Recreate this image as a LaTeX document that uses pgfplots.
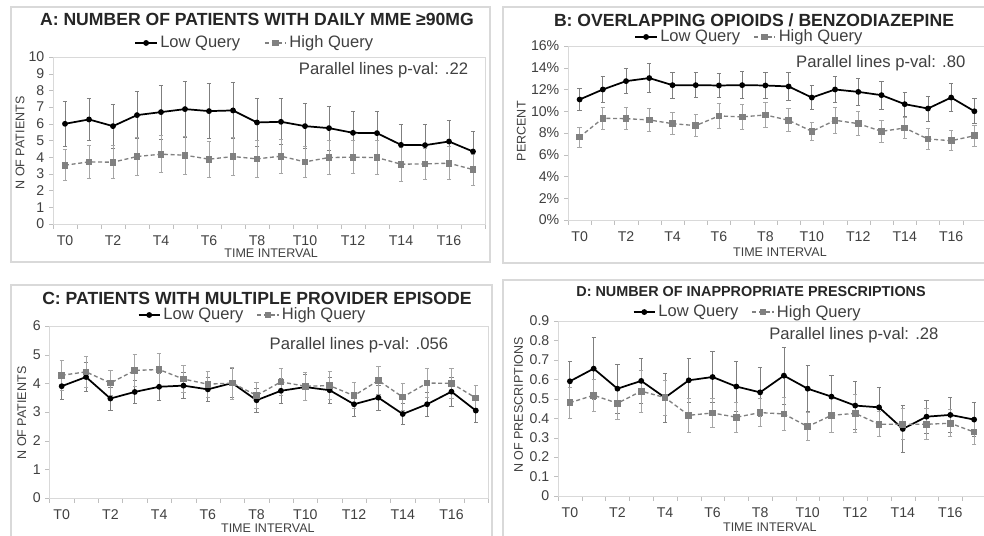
\documentclass[border=0pt]{standalone}
\usepackage{pgfplots}
\pgfplotsset{compat=1.18}
\usepackage{pgfplotstable}
\usepackage{fontspec}
\setmainfont{Liberation Sans}
\setsansfont{Liberation Sans}

\definecolor{framec}{HTML}{D9D9D9}
\definecolor{axgray}{HTML}{BFBFBF}
\definecolor{txt}{HTML}{404040}
\definecolor{ttl}{HTML}{262626}
\definecolor{higray}{HTML}{808080}
\definecolor{errlo}{HTML}{7F7F7F}
\definecolor{errhi}{HTML}{A6A6A6}

% Panel A
\pgfplotstableread{
x y e
0 6.00 1.34
1 6.26 1.24
2 5.86 1.32
3 6.52 1.42
4 6.70 1.62
5 6.88 1.68
6 6.76 1.66
7 6.80 1.70
8 6.08 1.42
9 6.12 1.38
10 5.86 1.36
11 5.74 1.32
12 5.46 1.28
13 5.44 1.30
14 4.74 1.24
15 4.72 1.26
16 4.94 1.24
17 4.34 1.22
}\ALow
\pgfplotstableread{
x y e
0 3.52 0.92
1 3.72 0.98
2 3.70 0.98
3 4.04 1.12
4 4.18 1.10
5 4.12 1.14
6 3.88 1.06
7 4.04 1.12
8 3.90 1.10
9 4.06 1.02
10 3.72 0.90
11 3.98 1.00
12 4.00 1.00
13 3.98 1.04
14 3.58 1.00
15 3.60 0.92
16 3.64 0.98
17 3.26 0.92
}\AHigh
% Panel B (percent)
\pgfplotstableread{
x y e
0 11.08 1.00
1 12.00 1.20
2 12.77 1.17
3 13.05 1.32
4 12.40 1.20
5 12.40 1.17
6 12.37 1.14
7 12.40 1.26
8 12.37 1.23
9 12.28 1.26
10 11.26 1.08
11 12.00 1.17
12 11.78 1.26
13 11.48 1.30
14 10.65 1.10
15 10.25 1.14
16 11.26 1.26
17 10.00 1.14
}\BLow
\pgfplotstableread{
x y e
0 7.63 0.93
1 9.35 0.98
2 9.32 1.02
3 9.20 1.05
4 8.86 1.01
5 8.68 1.02
6 9.57 1.11
7 9.48 1.11
8 9.66 1.11
9 9.17 1.05
10 8.15 0.86
11 9.17 1.20
12 8.86 1.11
13 8.15 0.98
14 8.46 0.98
15 7.45 0.99
16 7.29 0.92
17 7.75 0.98
}\BHigh
% Panel C
\pgfplotstableread{
x y e
0 3.90 0.45
1 4.22 0.50
2 3.47 0.40
3 3.70 0.41
4 3.88 0.46
5 3.92 0.45
6 3.79 0.41
7 4.01 0.50
8 3.41 0.41
9 3.74 0.44
10 3.87 0.45
11 3.76 0.46
12 3.27 0.41
13 3.50 0.43
14 2.93 0.38
15 3.27 0.43
16 3.71 0.50
17 3.05 0.42
}\CLow
\pgfplotstableread{
x y e
0 4.28 0.51
1 4.40 0.55
2 4.01 0.43
3 4.45 0.55
4 4.48 0.57
5 4.15 0.47
6 3.97 0.46
7 4.01 0.56
8 3.58 0.44
9 4.05 0.48
10 3.90 0.48
11 3.92 0.49
12 3.57 0.45
13 4.10 0.50
14 3.52 0.48
15 4.01 0.51
16 4.00 0.51
17 3.49 0.44
}\CHigh
% Panel D
\pgfplotstableread{
x y e
0 0.590 0.100
1 0.655 0.160
2 0.552 0.127
3 0.592 0.115
4 0.506 0.127
5 0.595 0.115
6 0.612 0.132
7 0.563 0.127
8 0.533 0.126
9 0.619 0.146
10 0.552 0.119
11 0.511 0.108
12 0.465 0.122
13 0.456 0.105
14 0.345 0.120
15 0.408 0.086
16 0.417 0.092
17 0.393 0.086
}\DLow
\pgfplotstableread{
x y e
0 0.480 0.080
1 0.518 0.084
2 0.477 0.082
3 0.539 0.107
4 0.506 0.090
5 0.415 0.086
6 0.427 0.074
7 0.405 0.076
8 0.429 0.072
9 0.422 0.086
10 0.357 0.072
11 0.415 0.087
12 0.425 0.100
13 0.369 0.065
14 0.369 0.080
15 0.369 0.080
16 0.374 0.069
17 0.329 0.063
}\DHigh

\newcommand{\ttlfont}{\fontsize{13.2}{15}\selectfont\bfseries}
\newcommand{\pfont}{\fontsize{12.5}{15}\selectfont}

\pgfplotsset{
 panel/.style={
  scale only axis, clip=false, anchor=south west,
  xmin=-0.5, xmax=17.5, ymin=0,
  xtick={0,2,...,16},
  xticklabels={T0,T2,T4,T6,T8,T10,T12,T14,T16},
  minor xtick={-0.5,0.5,...,17.5},
  xtick pos=left, ytick pos=left,
  tick align=outside,
  major x tick style={draw=none},
  minor x tick style={draw=axgray},
  y tick style={draw=axgray},
  major tick length=3pt, minor tick length=3.5pt,
  axis line style={draw=framec},
  /pgf/number format/assume math mode=true,
  tick label style={font=\fontsize{10.6}{12}\selectfont, text=txt},
  xticklabel style={yshift=-2pt},
  label style={font=\fontsize{9.4}{11}\selectfont, text=txt},
  xlabel={TIME INTERVAL},
  legend style={draw=none, fill=none, anchor=center,
    font=\fontsize{12.4}{14}\selectfont, text=txt,
    legend columns=2, inner sep=0pt,
    /tikz/every even column/.append style={column sep=8pt}},
  legend image code/.code={\draw[mark repeat=2, mark phase=2] plot coordinates {(0cm,0cm) (0.28cm,0cm) (0.56cm,0cm)};},
 },
 loS/.style={black, line width=1.3pt, mark=*, mark size=1.5pt, mark options={solid},
   error bars/y dir=both, error bars/y explicit,
   error bars/error bar style={errlo, line width=0.6pt, solid},
   error bars/error mark options={rotate=90, errlo, mark size=1.6pt, line width=0.6pt, solid}},
 hiS/.style={higray, line width=1pt, dash pattern=on 3pt off 2pt, mark=square*, mark size=2pt, mark options={solid, higray},
   error bars/y dir=both, error bars/y explicit,
   error bars/error bar style={errhi, line width=0.6pt, solid},
   error bars/error mark options={rotate=90, errhi, mark size=1.6pt, line width=0.6pt, solid}},
}

\begin{document}
\begin{tikzpicture}
\path[use as bounding box] (0pt,0pt) rectangle (738pt,401.25pt);
\fill[white] (0pt,0pt) rectangle (738pt,401.25pt);
% panel frames
\draw[framec, line width=0.8pt] (8.25pt,204.75pt) rectangle (367.5pt,396pt);
\draw[framec, line width=0.8pt] (377.25pt,204pt) rectangle (745pt,396pt);
\draw[framec, line width=0.8pt] (8.25pt,-5pt) rectangle (369pt,187.5pt);
\draw[framec, line width=0.8pt] (377.25pt,-5pt) rectangle (745pt,191.25pt);

% ---------------- A ----------------
\begin{axis}[panel, at={(39.75pt,233.25pt)}, width=324pt, height=125.25pt,
  ymax=10, ytick={0,1,...,10},
  ylabel={N OF PATIENTS},
  xlabel style={at={(axis description cs:0.505,-0.174)}, anchor=center},
  ylabel style={at={(axis description cs:-0.076,0.485)}, anchor=center},
  legend style={at={(0.468,1.084)}, /tikz/every even column/.append style={column sep=16pt}}]
\addplot[loS] table[x=x, y=y, y error=e] {\ALow};
\addlegendentry{Low Query}
\addplot[hiS] table[x=x, y=y, y error=e] {\AHigh};
\addlegendentry{High Query}
\node[anchor=center, font=\ttlfont, text=ttl] at (axis description cs:0.472,1.222) {A: NUMBER OF PATIENTS WITH DAILY MME ≥90MG};
\node[anchor=east, font=\pfont, text=txt] at (axis description cs:0.972,0.922) {Parallel lines p-val: .22};
\end{axis}

% ---------------- B ----------------
\begin{axis}[panel, at={(426pt,236.25pt)}, width=313.5pt, height=130.5pt,
  ymax=16, ytick={0,2,...,16},
  yticklabels={0\%,2\%,4\%,6\%,8\%,10\%,12\%,14\%,16\%},
  ylabel={PERCENT},
  xlabel style={at={(axis description cs:0.507,-0.184)}, anchor=center},
  ylabel style={at={(axis description cs:-0.112,0.51)}, anchor=center},
  legend style={at={(0.435,1.052)}}]
\addplot[loS] table[x=x, y=y, y error=e] {\BLow};
\addlegendentry{Low Query}
\addplot[hiS] table[x=x, y=y, y error=e] {\BHigh};
\addlegendentry{High Query}
\node[anchor=center, font=\ttlfont, text=ttl] at (axis description cs:0.445,1.149) {B: OVERLAPPING OPIOIDS / BENZODIAZEPINE};
\node[anchor=east, font=\pfont, text=txt] at (axis description cs:0.962,0.902) {Parallel lines p-val: .80};
\end{axis}

% ---------------- C ----------------
\begin{axis}[panel, at={(37.125pt,27.75pt)}, width=328.875pt, height=129pt,
  ymax=6, ytick={0,1,...,6},
  ylabel={N OF PATIENTS},
  xlabel style={at={(axis description cs:0.498,-0.174)}, anchor=center},
  ylabel style={at={(axis description cs:-0.063,0.494)}, anchor=center},
  legend style={at={(0.464,1.064)}}]
\addplot[loS] table[x=x, y=y, y error=e] {\CLow};
\addlegendentry{Low Query}
\addplot[hiS] table[x=x, y=y, y error=e] {\CHigh};
\addlegendentry{High Query}
\node[anchor=center, font=\ttlfont, text=ttl] at (axis description cs:0.473,1.163) {C: PATIENTS WITH MULTIPLE PROVIDER EPISODE};
\node[anchor=east, font=\pfont, text=txt] at (axis description cs:0.92,0.89) {Parallel lines p-val: .056};
\end{axis}

% ---------------- D ----------------
\begin{axis}[panel, at={(418.5pt,29.25pt)}, width=321pt, height=131.25pt,
  ymax=0.9, ytick={0,0.1,...,0.9},
  yticklabels={0,0.1,0.2,0.3,0.4,0.5,0.6,0.7,0.8,0.9},
  ylabel={N OF PRESCRIPTIONS},
  xlabel style={at={(axis description cs:0.495,-0.177)}, anchor=center},
  ylabel style={at={(axis description cs:-0.092,0.52)}, anchor=center},
  legend style={at={(0.444,1.051)}}]
\addplot[loS] table[x=x, y=y, y error=e] {\DLow};
\addlegendentry{Low Query}
\addplot[hiS] table[x=x, y=y, y error=e] {\DHigh};
\addlegendentry{High Query}
\node[anchor=center, font=\fontsize{10.8}{13}\selectfont\bfseries, text=ttl] at (axis description cs:0.451,1.166) {D: NUMBER OF INAPPROPRIATE PRESCRIPTIONS};
\node[anchor=east, font=\pfont, text=txt] at (axis description cs:0.90,0.92) {Parallel lines p-val: .28};
\end{axis}
\end{tikzpicture}
\end{document}
